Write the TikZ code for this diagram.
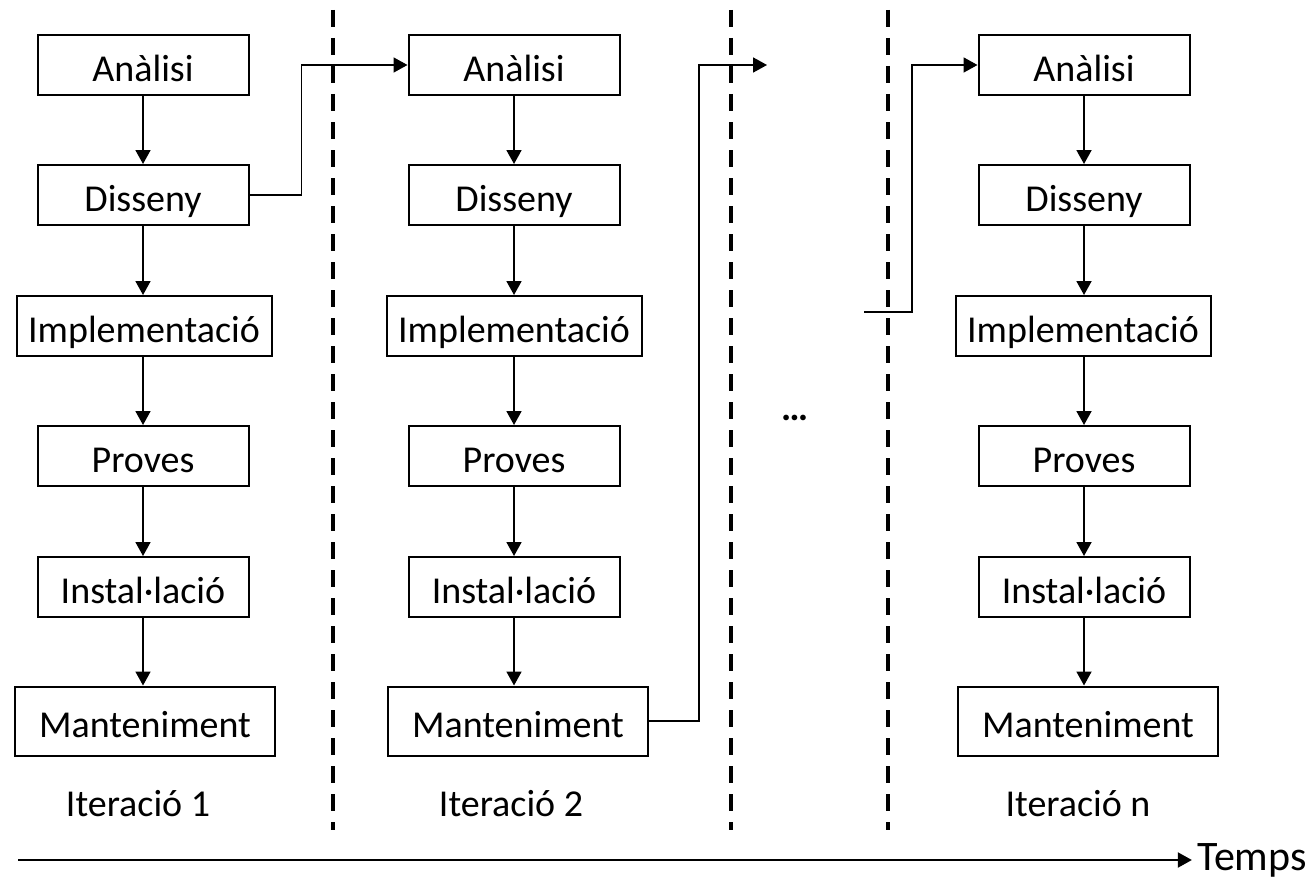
\documentclass[tikz,border=0pt]{standalone}
\usepackage{fontspec}
\setmainfont{Carlito}
\usepackage{tikz}
\usetikzlibrary{arrows.meta}

\begin{document}
\begin{tikzpicture}[x=0.5pt,y=-0.5pt,
    fase/.style={draw,line width=1pt,minimum width=105.5pt,minimum height=30pt,inner sep=2pt,
        text height=16.5pt,text depth=0pt,font=\fontsize{19}{23}\selectfont},
    conn/.style={line width=0.9pt,-{Triangle[length=7pt,width=7.5pt]}},
    sep/.style={line width=1.6pt,dash pattern=on 8.5pt off 5.5pt},
    etiq/.style={font=\fontsize{19}{23}\selectfont}]
    \useasboundingbox (0,0) rectangle (1310,888);
    % separadors
    \foreach \x in {333,731,888}
        \draw[sep] (\x,10)--(\x,830);
    % iteracio 1
    \node[fase] (a1) at (143,65) {Anàlisi};
    \node[fase] (d1) at (143,195) {Disseny};
    \node[fase,minimum width=127.5pt] (i1) at (144,326) {Implementació};
    \node[fase] (p1) at (143,456) {Proves};
    \node[fase] (s1) at (143,587) {Instal·lació};
    \node[fase,minimum width=130pt,minimum height=34.5pt] (m1) at (145,721) {Manteniment};
    \node[etiq] (it1) at (138,804) {Iteració 1};
    % iteracio 2
    \node[fase] (a2) at (514,65) {Anàlisi};
    \node[fase] (d2) at (514,195) {Disseny};
    \node[fase,minimum width=127.5pt] (i2) at (514,326) {Implementació};
    \node[fase] (p2) at (514,456) {Proves};
    \node[fase] (s2) at (514,587) {Instal·lació};
    \node[fase,minimum width=130pt,minimum height=34.5pt] (m2) at (518,721) {Manteniment};
    \node[etiq] (it2) at (511,804) {Iteració 2};
    % iteracio n
    \node[fase] (an) at (1084,65) {Anàlisi};
    \node[fase] (dn) at (1084,195) {Disseny};
    \node[fase,minimum width=127.5pt] (in) at (1083,326) {Implementació};
    \node[fase] (pn) at (1084,456) {Proves};
    \node[fase] (sn) at (1084,587) {Instal·lació};
    \node[fase,minimum width=130pt,minimum height=34.5pt] (mn) at (1088,721) {Manteniment};
    \node[etiq] (itn) at (1078,804) {Iteració n};
    \node[etiq] (punts) at (795,418) {\bfseries …};
    % fletxes verticals
    \foreach \c in {1,2,n}{
        \draw[conn] (a\c.south)--(a\c.south |- d\c.north);
        \draw[conn] (d\c.south)--(d\c.south |- i\c.north);
        \draw[conn] (p\c.north |- i\c.south)--(p\c.north);
        \draw[conn] (p\c.south)--(p\c.south |- s\c.north);
        \draw[conn] (s\c.south)--(s\c.south |- m\c.north);
    }
    % salts entre iteracions
    \coordinate (cont) at (767,65);
    \coordinate (ve) at (864,312);
    \draw[conn] (d1.east) -- ++(26pt,0) |- (a2.west);
    \draw[conn] (m2.east) -- ++(25pt,0) |- (cont);
    \draw[conn] (ve) -- ++(24pt,0) |- (an.west);
    % temps
    \node[font=\fontsize{21}{25}\selectfont,inner sep=2.5pt] (temps) at (1252,860) {Temps};
    \coordinate (t0) at (18,860);
    \draw[conn,line width=1pt] (t0)--(temps.west);
\end{tikzpicture}
\end{document}
